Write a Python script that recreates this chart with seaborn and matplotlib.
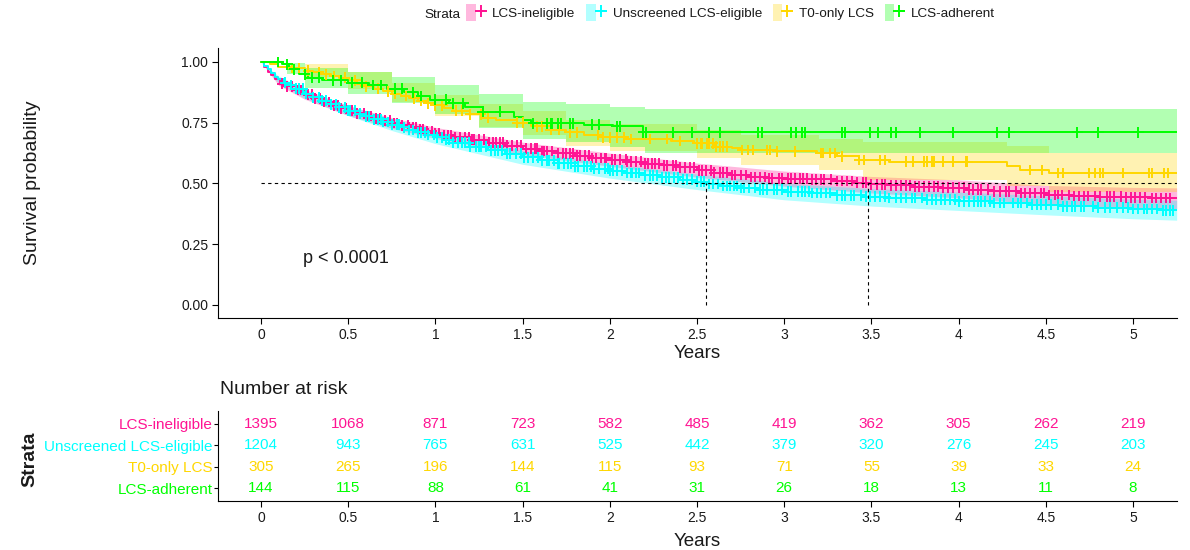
import numpy as np
import pandas as pd
import matplotlib
matplotlib.use("Agg")
import matplotlib.pyplot as plt
import seaborn as sns
from matplotlib.patches import Patch
from matplotlib.lines import Line2D
from matplotlib.legend_handler import HandlerTuple

# ---------------------------------------------------------------- data
strata = ["LCS-ineligible", "Unscreened LCS-eligible", "T0-only LCS", "LCS-adherent"]
colors = ["#FF1493", "#00FFFF", "#FFD700", "#00FF00"]
followup_end = 5.25

# Kaplan-Meier steps: event times and survival after each step
inel_t = [0.02, 0.04, 0.06, 0.08, 0.11, 0.15, 0.20, 0.25, 0.30, 0.35, 0.40, 0.45, 0.50, 0.55, 0.60,
          0.65, 0.70, 0.75, 0.80, 0.85, 0.90, 0.95, 1.00, 1.05, 1.10, 1.20, 1.30, 1.40, 1.50, 1.60,
          1.70, 1.80, 1.90, 2.00, 2.10, 2.20, 2.30, 2.40, 2.50, 2.60, 2.70, 2.80, 2.90, 3.00, 3.15,
          3.30, 3.40, 3.48, 3.60, 3.75, 3.90, 4.05, 4.20, 4.35, 4.50, 4.65, 4.80, 4.95, 5.10]
inel_s = [0.98, 0.96, 0.945, 0.93, 0.91, 0.90, 0.885, 0.865, 0.85, 0.835, 0.82, 0.81, 0.80, 0.789, 0.778,
          0.768, 0.758, 0.749, 0.740, 0.732, 0.724, 0.716, 0.708, 0.700, 0.690, 0.680, 0.668, 0.655, 0.644, 0.634,
          0.624, 0.614, 0.605, 0.598, 0.590, 0.582, 0.575, 0.566, 0.555, 0.545, 0.535, 0.527, 0.522, 0.520, 0.517,
          0.510, 0.503, 0.497, 0.492, 0.487, 0.482, 0.475, 0.468, 0.461, 0.453, 0.449, 0.445, 0.443, 0.440]

unscr_t = [0.02, 0.04, 0.06, 0.08, 0.10, 0.13, 0.16, 0.20, 0.25, 0.30, 0.35, 0.40, 0.45, 0.50, 0.55,
           0.60, 0.65, 0.70, 0.75, 0.80, 0.85, 0.90, 0.95, 1.00, 1.05, 1.10, 1.20, 1.30, 1.40, 1.50,
           1.60, 1.70, 1.80, 1.90, 2.00, 2.10, 2.20, 2.30, 2.40, 2.50, 2.55, 2.65, 2.75, 2.85, 3.00,
           3.15, 3.30, 3.45, 3.60, 3.80, 4.00, 4.20, 4.40, 4.60, 4.80, 5.00, 5.15]
unscr_s = [0.985, 0.97, 0.955, 0.94, 0.928, 0.915, 0.905, 0.89, 0.87, 0.855, 0.84, 0.826, 0.813, 0.80, 0.788,
           0.776, 0.764, 0.753, 0.742, 0.731, 0.72, 0.71, 0.70, 0.69, 0.68, 0.668, 0.652, 0.637, 0.622, 0.607,
           0.595, 0.583, 0.571, 0.561, 0.552, 0.543, 0.534, 0.525, 0.516, 0.507, 0.498, 0.490, 0.481, 0.474, 0.467,
           0.461, 0.452, 0.445, 0.440, 0.433, 0.427, 0.420, 0.413, 0.406, 0.400, 0.395, 0.390]

t0_t = [0.05, 0.10, 0.18, 0.25, 0.30, 0.35, 0.40, 0.45, 0.50, 0.55, 0.60, 0.65, 0.70, 0.75, 0.80,
        0.85, 0.90, 0.95, 1.00, 1.05, 1.10, 1.20, 1.27, 1.35, 1.47, 1.55, 1.66, 1.75, 1.85, 1.94,
        2.10, 2.35, 2.48, 2.60, 2.70, 2.76, 2.95, 3.19, 3.30, 3.43, 3.60, 4.28, 4.35, 4.52]
t0_s = [0.99, 0.98, 0.975, 0.965, 0.958, 0.95, 0.942, 0.935, 0.925, 0.91, 0.90, 0.89, 0.88, 0.87, 0.86,
        0.85, 0.84, 0.83, 0.822, 0.81, 0.80, 0.785, 0.77, 0.76, 0.75, 0.735, 0.72, 0.71, 0.70, 0.69,
        0.683, 0.675, 0.665, 0.652, 0.645, 0.638, 0.632, 0.626, 0.612, 0.597, 0.59, 0.57, 0.556, 0.543]

adh_t = [0.12, 0.16, 0.22, 0.27, 0.35, 0.50, 0.62, 0.72, 0.82, 0.90, 0.97, 1.08, 1.17, 1.27, 1.45,
         1.50, 1.55, 1.85, 2.02, 2.19]
adh_s = [0.99, 0.97, 0.95, 0.935, 0.925, 0.915, 0.905, 0.89, 0.875, 0.86, 0.845, 0.83, 0.815, 0.795, 0.775,
         0.76, 0.748, 0.742, 0.735, 0.71]

# censoring times
inel_cens = [0.12, 0.15, 0.18, 0.21, 0.23, 0.27, 0.29, 0.31, 0.34, 0.36, 0.39, 0.42, 0.44, 0.46, 0.49,
             0.52, 0.55, 0.57, 0.59, 0.61, 0.63, 0.66, 0.68, 0.71, 0.74, 0.76, 0.78, 0.81, 0.84, 0.85,
             0.87, 0.89, 0.91, 0.93, 0.95, 0.98, 1.00, 1.02, 1.05, 1.07, 1.09, 1.11, 1.14, 1.17, 1.19,
             1.21, 1.22, 1.25, 1.28, 1.31, 1.33, 1.35, 1.37, 1.39, 1.41, 1.44, 1.47, 1.49, 1.52, 1.55,
             1.57, 1.58, 1.61, 1.62, 1.64, 1.67, 1.70, 1.73, 1.75, 1.77, 1.79, 1.81, 1.83, 1.86, 1.88,
             1.90, 1.92, 1.95, 1.97, 1.98, 2.01, 2.03, 2.06, 2.09, 2.10, 2.12, 2.15, 2.18, 2.20, 2.22,
             2.24, 2.26, 2.28, 2.31, 2.33, 2.36, 2.38, 2.40, 2.43, 2.46, 2.48, 2.51, 2.53, 2.55, 2.58,
             2.60, 2.63, 2.65, 2.67, 2.70, 2.72, 2.75, 2.78, 2.81, 2.83, 2.86, 2.89, 2.91, 2.93, 2.97,
             2.99, 3.02, 3.04, 3.06, 3.09, 3.11, 3.13, 3.16, 3.18, 3.21, 3.23, 3.27, 3.30, 3.33, 3.36,
             3.39, 3.42, 3.45, 3.47, 3.50, 3.53, 3.56, 3.58, 3.61, 3.64, 3.67, 3.70, 3.72, 3.75, 3.77,
             3.80, 3.83, 3.86, 3.88, 3.91, 3.94, 3.97, 4.00, 4.03, 4.06, 4.08, 4.11, 4.13, 4.17, 4.20,
             4.24, 4.27, 4.29, 4.33, 4.36, 4.38, 4.41, 4.44, 4.47, 4.49, 4.52, 4.55, 4.57, 4.59, 4.63,
             4.66, 4.69, 4.72, 4.74, 4.78, 4.81, 4.85, 4.87, 4.89, 4.93, 4.96, 4.99, 5.01, 5.04, 5.07,
             5.11, 5.13, 5.16, 5.19, 5.21]
unscr_cens = [0.14, 0.17, 0.20, 0.22, 0.24, 0.26, 0.30, 0.33, 0.35, 0.37, 0.40, 0.43, 0.45, 0.48, 0.50,
              0.51, 0.54, 0.57, 0.60, 0.62, 0.65, 0.67, 0.69, 0.70, 0.73, 0.75, 0.78, 0.79, 0.82, 0.85,
              0.87, 0.90, 0.92, 0.94, 0.96, 0.99, 1.01, 1.04, 1.06, 1.08, 1.10, 1.13, 1.15, 1.17, 1.19,
              1.20, 1.23, 1.25, 1.26, 1.29, 1.32, 1.34, 1.36, 1.38, 1.41, 1.43, 1.46, 1.49, 1.51, 1.53,
              1.56, 1.59, 1.61, 1.64, 1.65, 1.68, 1.70, 1.71, 1.74, 1.76, 1.78, 1.80, 1.82, 1.85, 1.87,
              1.89, 1.91, 1.94, 1.97, 1.99, 2.00, 2.02, 2.04, 2.07, 2.10, 2.12, 2.13, 2.15, 2.17, 2.20,
              2.23, 2.25, 2.27, 2.30, 2.32, 2.34, 2.37, 2.39, 2.42, 2.44, 2.47, 2.50, 2.52, 2.54, 2.57,
              2.59, 2.62, 2.65, 2.67, 2.69, 2.71, 2.73, 2.75, 2.77, 2.80, 2.83, 2.86, 2.88, 2.90, 2.94,
              2.96, 2.99, 3.02, 3.04, 3.08, 3.10, 3.12, 3.14, 3.16, 3.19, 3.21, 3.24, 3.26, 3.30, 3.33,
              3.35, 3.38, 3.40, 3.44, 3.47, 3.49, 3.52, 3.55, 3.58, 3.60, 3.64, 3.67, 3.70, 3.73, 3.75,
              3.79, 3.82, 3.85, 3.87, 3.90, 3.92, 3.95, 3.98, 4.00, 4.03, 4.06, 4.09, 4.11, 4.13, 4.15,
              4.18, 4.20, 4.24, 4.26, 4.31, 4.34, 4.36, 4.39, 4.42, 4.45, 4.47, 4.50, 4.53, 4.57, 4.60,
              4.62, 4.65, 4.67, 4.70, 4.72, 4.77, 4.80, 4.84, 4.87, 4.91, 4.94, 4.97, 5.00, 5.03, 5.06,
              5.08, 5.11, 5.14, 5.17, 5.19, 5.21, 5.23]
t0_cens = [0.18, 0.22, 0.27, 0.33, 0.37, 0.42, 0.48, 0.54, 0.60, 0.67, 0.73, 0.77, 0.83, 0.88, 0.92,
           0.96, 1.00, 1.04, 1.12, 1.15, 1.20, 1.26, 1.30, 1.47, 1.50, 1.58, 1.61, 1.66, 1.71, 1.77,
           1.81, 1.93, 1.96, 2.00, 2.04, 2.08, 2.12, 2.23, 2.33, 2.40, 2.50, 2.52, 2.53, 2.56, 2.57,
           2.59, 2.61, 2.63, 2.65, 2.67, 2.76, 2.79, 2.82, 2.90, 2.92, 2.96, 3.06, 3.21, 3.22, 3.26,
           3.29, 3.33, 3.43, 3.46, 3.55, 3.58, 3.70, 3.74, 3.80, 3.82, 3.85, 3.86, 3.91, 3.97, 4.04,
           4.05, 4.41, 4.48, 4.57, 4.60, 4.75, 4.78, 4.81, 4.83, 4.94, 5.09, 5.11, 5.18, 5.20]
adh_cens = [0.10, 0.15, 0.19, 0.25, 0.29, 0.33, 0.41, 0.46, 0.52, 0.58, 0.64, 0.69, 0.77, 0.81, 0.87,
            0.92, 1.00, 1.06, 1.10, 1.16, 1.27, 1.37, 1.56, 1.64, 1.66, 1.67, 1.70, 1.72, 1.77, 1.79,
            1.90, 1.94, 2.04, 2.06, 2.19, 2.21, 2.36, 2.47, 2.57, 2.63, 2.85, 2.87, 3.04, 3.07, 3.10,
            3.12, 3.33, 3.35, 3.49, 3.54, 3.61, 3.64, 3.78, 3.97, 4.22, 4.29, 4.68, 4.80, 5.03]

# 95% confidence limits
smooth_band_t = [0, 0.1, 0.25, 0.5, 0.75, 1.0, 1.5, 2.0, 2.5, 3.0, 3.5, 4.0, 4.5, 5.0, 5.25]
inel_lo = [1, 0.905, 0.847, 0.780, 0.727, 0.685, 0.619, 0.571, 0.526, 0.489, 0.461, 0.441, 0.414, 0.400, 0.396]
inel_hi = [1, 0.935, 0.883, 0.820, 0.771, 0.731, 0.670, 0.625, 0.584, 0.551, 0.529, 0.515, 0.492, 0.484, 0.482]
unscr_lo = [1, 0.913, 0.851, 0.779, 0.718, 0.664, 0.579, 0.522, 0.475, 0.433, 0.407, 0.389, 0.371, 0.355, 0.349]
unscr_hi = [1, 0.943, 0.889, 0.821, 0.766, 0.716, 0.635, 0.582, 0.539, 0.501, 0.479, 0.465, 0.449, 0.435, 0.431]
t0_band_t = [0, 0.25, 0.5, 0.75, 1.0, 1.25, 1.5, 1.75, 2.0, 2.5, 2.75, 3.2, 3.45, 4.28, 4.52]
t0_lo = [1, 0.94, 0.89, 0.835, 0.778, 0.732, 0.698, 0.655, 0.633, 0.605, 0.575, 0.555, 0.515, 0.49, 0.465]
t0_hi = [1, 0.99, 0.96, 0.915, 0.866, 0.826, 0.80, 0.762, 0.745, 0.722, 0.698, 0.685, 0.67, 0.655, 0.625]
adh_band_t = [0, 0.15, 0.25, 0.5, 0.75, 1.0, 1.25, 1.5, 1.75, 2.0, 2.2]
adh_lo = [1, 0.95, 0.895, 0.87, 0.83, 0.785, 0.73, 0.685, 0.67, 0.65, 0.625]
adh_hi = [1, 0.995, 0.975, 0.96, 0.94, 0.905, 0.87, 0.835, 0.826, 0.815, 0.808]

# number at risk
risk_times = [0, 0.5, 1, 1.5, 2, 2.5, 3, 3.5, 4, 4.5, 5]
risk_inel = [1395, 1068, 871, 723, 582, 485, 419, 362, 305, 262, 219]
risk_unscr = [1204, 943, 765, 631, 525, 442, 379, 320, 276, 245, 203]
risk_t0 = [305, 265, 196, 144, 115, 93, 71, 55, 39, 33, 24]
risk_adh = [144, 115, 88, 61, 41, 31, 26, 18, 13, 11, 8]

x_ticks = [0, 0.5, 1, 1.5, 2, 2.5, 3, 3.5, 4, 4.5, 5]
x_ticklabels = ["0", "0.5", "1", "1.5", "2", "2.5", "3", "3.5", "4", "4.5", "5"]
y_ticks = [0, 0.25, 0.5, 0.75, 1.0]
y_ticklabels = ["0.00", "0.25", "0.50", "0.75", "1.00"]

curves = {
    strata[0]: (inel_t, inel_s, inel_cens, smooth_band_t, inel_lo, inel_hi, False),
    strata[1]: (unscr_t, unscr_s, unscr_cens, smooth_band_t, unscr_lo, unscr_hi, False),
    strata[2]: (t0_t, t0_s, t0_cens, t0_band_t, t0_lo, t0_hi, True),
    strata[3]: (adh_t, adh_s, adh_cens, adh_band_t, adh_lo, adh_hi, True),
}
risk = [risk_inel, risk_unscr, risk_t0, risk_adh]

# ---------------------------------------------------------------- tidy frames
line_rows, cens_rows = [], []
medians = []
for name, (tt, ss, cens, *_rest) in curves.items():
    times = np.r_[0.0, tt, followup_end]
    surv = np.r_[1.0, ss, ss[-1]]
    for a, b in zip(times, surv):
        line_rows.append((name, a, b))
    idx = np.searchsorted(times, cens, side="right") - 1
    for c, s in zip(cens, surv[idx]):
        cens_rows.append((name, c, s))
    below = np.nonzero(surv <= 0.5)[0]
    if len(below):
        medians.append(times[below[0]])
line_df = pd.DataFrame(line_rows, columns=["strata", "time", "surv"])
cens_df = pd.DataFrame(cens_rows, columns=["strata", "time", "surv"])

# ---------------------------------------------------------------- figure
sns.set_theme(style="ticks")
plt.rcParams["font.family"] = ["Liberation Sans", "DejaVu Sans"]
plt.rcParams["axes.linewidth"] = 0.8
ink = "#1a1a1a"

W, H = 1190, 550
fig = plt.figure(figsize=(W / 100, H / 100), dpi=100)


def fx(px):
    return px / W


def fy(py):
    return 1 - py / H


xlim = (-0.2466, 5.252)
ax = fig.add_axes([fx(218), fy(318), fx(1177) - fx(218), fy(48) - fy(318)])

for (name, (tt, ss, cens, bt, lo, hi, stepped)), col in zip(curves.items(), colors):
    extend = bt[-1] < followup_end
    bt_full = np.r_[bt, followup_end] if extend else np.asarray(bt)
    lo_full = np.r_[lo, lo[-1]] if extend else np.asarray(lo)
    hi_full = np.r_[hi, hi[-1]] if extend else np.asarray(hi)
    ax.fill_between(bt_full, lo_full, hi_full, step="post" if stepped else None,
                    color=col, alpha=0.3, lw=0, zorder=1)

sns.lineplot(data=line_df, x="time", y="surv", hue="strata", hue_order=strata,
             palette=colors, drawstyle="steps-post", estimator=None, sort=False,
             lw=1.4, legend=False, ax=ax, zorder=3)
sns.scatterplot(data=cens_df, x="time", y="surv", hue="strata", hue_order=strata,
                palette=colors, marker="+", s=60, linewidth=1.4, legend=False,
                ax=ax, zorder=4)

# median survival guides
ax.plot([0, followup_end], [0.5, 0.5], ls=(0, (3, 3)), color="black", lw=0.8, zorder=5)
for m in medians:
    ax.plot([m, m], [0, 0.5], ls=(0, (3, 3)), color="black", lw=0.8, zorder=5)

ax.text(0.24, 0.193, "p < 0.0001", ha="left", va="center", fontsize=13, color=ink)

ax.set_xlim(*xlim)
ax.set_ylim(-0.0535, 1.0576)
ax.set_xticks(x_ticks)
ax.set_xticklabels(x_ticklabels)
ax.set_yticks(y_ticks)
ax.set_yticklabels(y_ticklabels)
ax.set_xlabel("")
ax.set_ylabel("")
for sp in ["top", "right"]:
    ax.spines[sp].set_visible(False)
for sp in ["left", "bottom"]:
    ax.spines[sp].set_color("black")
ax.tick_params(direction="out", length=4, width=0.8, colors="black",
               labelcolor=ink, labelsize=10, pad=3)
ax.grid(False)

fig.text(fx(33), fy(183), "Survival probability", rotation=90, ha="center", va="center",
         fontsize=14, color=ink)
fig.text(fx(697), fy(353), "Years", ha="center", va="center", fontsize=13.5, color=ink)

# ---------------------------------------------------------------- legend
handles = [(Patch(facecolor=c, alpha=0.3, edgecolor="none"),
            Line2D([0], [0], color=c, lw=1.4, marker="+", markersize=8, mew=1.4))
           for c in colors]
fig.legend(handles, strata, handler_map={tuple: HandlerTuple(ndivide=None)},
           loc="upper left", bbox_to_anchor=(fx(466), fy(4)), ncol=4, frameon=False,
           fontsize=9.7, handlelength=1.45, handleheight=1.6, handletextpad=0.5,
           columnspacing=0.8, borderpad=0, borderaxespad=0, labelcolor=ink)
fig.text(fx(424), fy(15), "Strata", ha="left", va="center", fontsize=9.7, color=ink)

# ---------------------------------------------------------------- risk table
axr = fig.add_axes([fx(218), fy(501), fx(1177) - fx(218), fy(411) - fy(501)])
n_rows = len(strata)
for i, (counts, col) in enumerate(zip(risk, colors)):
    row = n_rows - i
    for t, n in zip(risk_times, counts):
        axr.text(t, row, str(n), ha="center", va="center", color=col, fontsize=11)
axr.set_xlim(*xlim)
axr.set_ylim(0.4, n_rows + 0.6)
axr.set_xticks(x_ticks)
axr.set_xticklabels(x_ticklabels)
axr.set_yticks([n_rows - i for i in range(n_rows)])
axr.set_yticklabels(strata)
for sp in ["top", "right"]:
    axr.spines[sp].set_visible(False)
for sp in ["left", "bottom"]:
    axr.spines[sp].set_color("black")
axr.tick_params(axis="x", direction="out", length=4, width=0.8, colors="black",
                labelcolor=ink, labelsize=10, pad=3)
axr.tick_params(axis="y", direction="out", length=3, width=0.8, colors="black",
                labelsize=11, pad=1)
for lab, col in zip(axr.get_yticklabels(), colors):
    lab.set_color(col)
axr.grid(False)

fig.text(fx(220), fy(390), "Number at risk", ha="left", va="center", fontsize=14, color=ink)
fig.text(fx(30), fy(459), "Strata", rotation=90, ha="center", va="center", fontsize=14,
         fontweight="bold", color=ink)
fig.text(fx(697), fy(541), "Years", ha="center", va="center", fontsize=13.5, color=ink)

fig.savefig("out.png", dpi=100)
